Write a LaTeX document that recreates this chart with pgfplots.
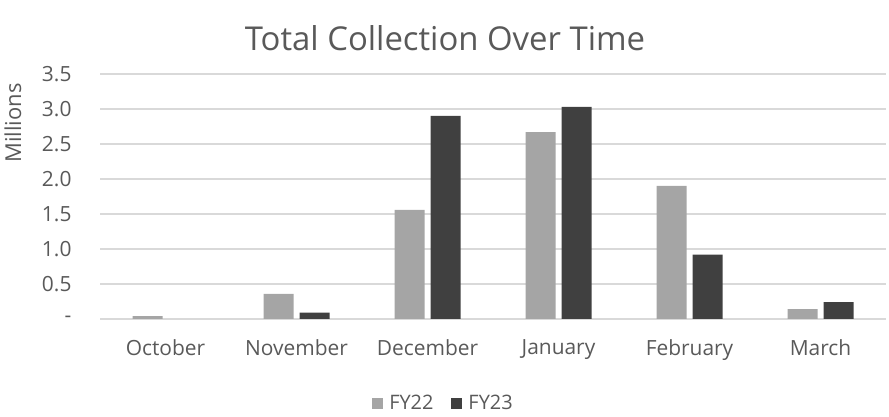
\documentclass[border=0pt]{standalone}
\usepackage{pgfplots}
\pgfplotsset{compat=1.18}
\usepackage{fontspec}
\setmainfont{Open Sans}
\definecolor{fya}{HTML}{A5A5A5}
\definecolor{fyb}{HTML}{404040}
\definecolor{txt}{HTML}{595959}
\definecolor{grd}{HTML}{D9D9D9}
\begin{document}
\begin{tikzpicture}
\useasboundingbox (0,0) rectangle (889bp,417bp);
\begin{axis}[
  at={(100bp,98bp)}, anchor=south west,
  scale only axis, width=786bp, height=245bp,
  xmin=-0.5, xmax=5.5, ymin=0, ymax=3.5,
  axis line style={draw=none},
  ybar=6bp, bar width=30bp,
  xtick={0,1,2,3,4,5},
  xticklabels={October,November,December,January,February,March},
  ytick={0,0.5,1,1.5,2,2.5,3,3.5},
  yticklabels={-\hspace{7bp},0.5,1.0,1.5,2.0,2.5,3.0,3.5},
  ymajorgrids, major grid style={grd, line width=1.3bp},
  tick style={draw=none},
  every tick label/.append style={font=\fontsize{21}{24}\selectfont, text=txt},
  yticklabel style={xshift=-25bp},
  xticklabel style={yshift=-13bp},
  legend style={at={(0.437,-0.343)}, anchor=center, draw=none, fill=none,
    legend columns=2, font=\fontsize{20}{24}\selectfont, text=txt,
    /tikz/every even column/.append style={column sep=16bp}},
  legend image code/.code={\fill[#1] (0bp,-5.5bp) rectangle (11bp,5.5bp);},
]
\addplot[fill=fya, draw=none] coordinates {(0,0.04) (1,0.36) (2,1.56) (3,2.67) (4,1.90) (5,0.14)};
\addplot[fill=fyb, draw=none] coordinates {(0,0.0) (1,0.09) (2,2.90) (3,3.03) (4,0.92) (5,0.24)};
\legend{\hspace{4bp}FY22,\hspace{4bp}FY23}
\end{axis}
\node[text=txt, font=\fontsize{33}{38}\selectfont] at (445bp,379bp) {Total Collection Over Time};
\node[text=txt, rotate=90, font=\fontsize{22}{26}\selectfont] at (13bp,294bp) {Millions};
\end{tikzpicture}
\end{document}
